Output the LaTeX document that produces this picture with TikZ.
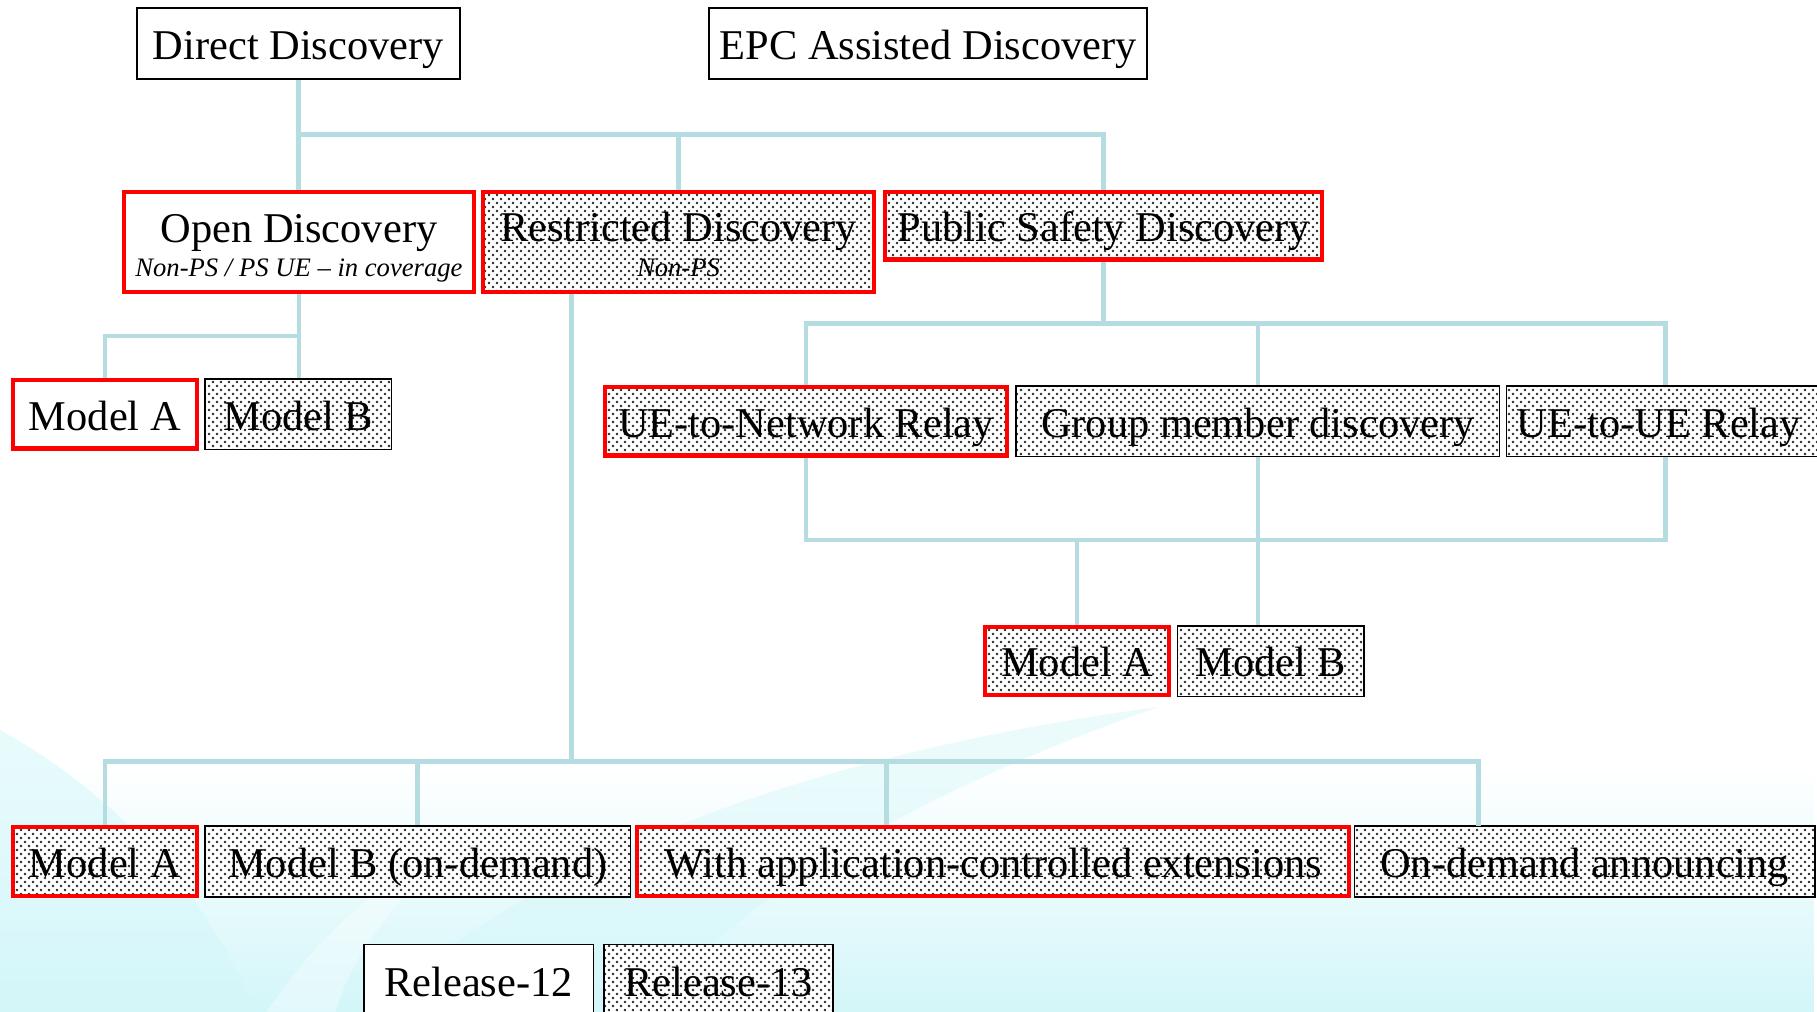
\documentclass[tikz,border=0pt]{standalone}
\usepackage{fontspec}
\setmainfont{Liberation Serif}
\usetikzlibrary{patterns,fadings}

\pgfdeclarepatternformonly{sdots}{\pgfqpoint{0pt}{0pt}}{\pgfqpoint{3.45pt}{3.45pt}}{\pgfqpoint{3.45pt}{3.45pt}}{%
  \pgfpathcircle{\pgfqpoint{0.8625pt}{0.8625pt}}{0.56pt}%
  \pgfpathcircle{\pgfqpoint{2.5875pt}{2.5875pt}}{0.56pt}%
  \pgfusepath{fill}}

\definecolor{connc}{HTML}{B5DCE0}
\definecolor{bgc}{HTML}{D3F6F9}
\tikzfading[name=fadeup, top color=transparent!100, bottom color=transparent!0]

\tikzset{
  box/.style={draw=black, line width=0.7pt, fill=white, inner sep=0pt,
    text height=16pt, text depth=2.3pt, font=\fontsize{18.3}{22}\selectfont},
  redb/.style={draw=red, line width=1.8pt},
  dotf/.style={preaction={fill=white}, pattern=sdots, pattern color=black!85},
  sz/.style 2 args={minimum width=#1*0.5pt, minimum height=#2*0.5pt},
  ttl/.style={inner sep=0pt, anchor=base, font=\fontsize{18.3}{22}\selectfont},
  sub/.style={inner sep=0pt, anchor=base, font=\fontsize{11.5}{14}\selectfont\itshape},
  cl/.style={draw=connc, line width=2pt},
}

\begin{document}
\begin{tikzpicture}[x=0.5pt,y=-0.5pt]
\useasboundingbox (0,0) rectangle (1568,873);
\clip (0,0) rectangle (1568,873);

% background wash
\fill[bgc, path fading=fadeup] (0,660) rectangle (1568,873);
\fill[bgc, opacity=0.45] (320,873) .. controls (460,740) and (700,650) .. (1000,610)
  .. controls (800,680) and (640,770) .. (560,873) -- cycle;
\fill[bgc, opacity=0.55] (0,630) .. controls (110,690) and (190,790) .. (220,873) -- (0,873) -- cycle;
\fill[white, opacity=0.35] (230,873) .. controls (280,800) and (330,760) .. (380,740)
  .. controls (340,780) and (300,830) .. (290,873) -- cycle;

% top row
\node[box, sz={279}{61}] (dd) at (257.5,37.5) {Direct Discovery};
\node[box, sz={378}{61}] (epc) at (801,37.5) {EPC Assisted Discovery};

% second row
\node[box, redb, sz={302}{86}] (od) at (258,209) {};
\node[box, redb, dotf, sz={337}{86}] (rd) at (585.5,209) {};
\node[box, redb, dotf, sz={377}{58}] (psd) at (952.5,195) {Public Safety Discovery};
\node[ttl] (odt) at (258,209) {Open Discovery};
\node[sub] (ods) at (258,238.5) {Non-PS / PS UE – in coverage};
\node[ttl] (rdt) at (585.5,208.5) {Restricted Discovery};
\node[sub] (rds) at (585.5,238.5) {Non-PS};

% open discovery children
\node[box, redb, sz={159}{59}] (ma1) at (90.5,357.5) {Model A};
\node[box, dotf, sz={161}{61}] (mb1) at (257.5,357.5) {Model B};

% public safety children
\node[box, redb, dotf, sz={347}{59}] (unr) at (695.5,363.5) {UE-to-Network Relay};
\node[box, dotf, sz={417}{61}] (gmd) at (1085.5,363.5) {Group member discovery};
\node[box, dotf, sz={275}{61}] (uur) at (1437.5,363.5) {UE-to-UE Relay\hspace*{6pt}};

\node[box, redb, dotf, sz={159}{59}] (ma2) at (929.5,570.5) {Model A};
\node[box, dotf, sz={161}{61}] (mb2) at (1096.5,570.5) {Model B};

% restricted discovery children
\node[box, redb, dotf, sz={159}{59}] (ma3) at (90.5,743.5) {Model A};
\node[box, dotf, sz={367}{61}] (mbod) at (360.5,743.5) {Model B (on-demand)};
\node[box, redb, dotf, sz={614}{59}] (wac) at (857,743.5) {With application-controlled extensions};
\node[box, dotf, sz={397}{61}] (oda) at (1367.5,743.5) {On-demand announcing};

% legend
\node[box, sz={198}{62}] (r12) at (413,846) {Release-12};
\node[box, dotf, sz={198}{62}] (r13) at (620,846) {Release-13};

% connectors
\coordinate (b1) at (0,116);
\draw[cl] (dd.south) -- (dd.south |- od.north);
\draw[cl] (dd.south |- b1) -| (psd.north);
\draw[cl] (rd.north |- b1) -- (rd.north);

\coordinate (b2) at (0,290);
\draw[cl] (od.south) -- (od.south |- mb1.north);
\draw[cl] (od.south |- b2) -| (ma1.north);

\coordinate (b3) at (493,657);
\coordinate (t3) at (765,712);
\coordinate (t4) at (1276,713);
\draw[cl] (b3 |- rd.south) -- (b3);
\draw[cl] (ma3.north) |- (b3) -| (t4);
\draw[cl] (mbod.north) -- (mbod.north |- b3);
\draw[cl] (t3) -- (t3 |- b3);

\coordinate (b4) at (0,279);
\draw[cl] (psd.south) -- (psd.south |- b4);
\draw[cl] (unr.north) |- (b4 -| gmd.north) -| (uur.north);
\draw[cl] (gmd.north) -- (gmd.north |- b4);

\coordinate (b5) at (0,466);
\draw[cl] (unr.south) |- (b5 -| gmd.south) -| (uur.south);
\draw[cl] (gmd.south) -- (gmd.south |- mb2.north);
\draw[cl] (ma2.north) -- (ma2.north |- b5);
\end{tikzpicture}
\end{document}
